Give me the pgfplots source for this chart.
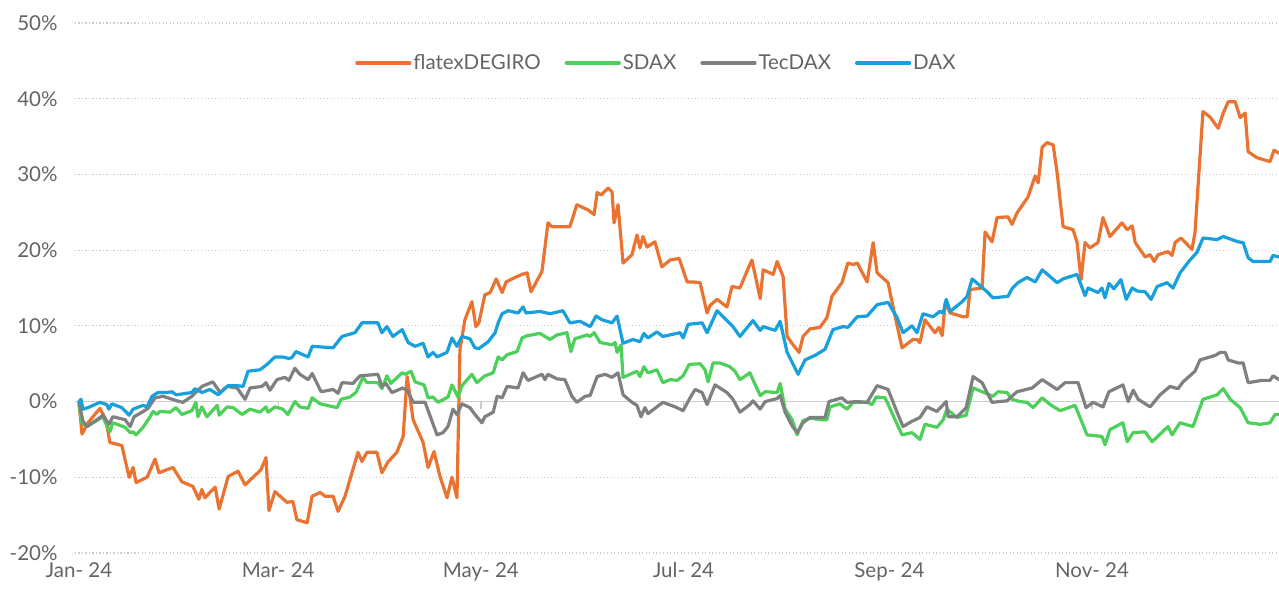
\documentclass[border=0pt]{standalone}
\usepackage{fontspec}
\setmainfont{Lato}
\usepackage{pgfplots}
\pgfplotsset{compat=1.18}
\definecolor{cOrange}{RGB}{235,115,50}
\definecolor{cGreen}{RGB}{76,208,90}
\definecolor{cGray}{RGB}{128,128,128}
\definecolor{cBlue}{RGB}{23,160,220}
\definecolor{cText}{RGB}{100,100,100}
\definecolor{cGrid}{RGB}{205,205,205}
\begin{document}
\begin{tikzpicture}
\begin{axis}[
  scale only axis, width=1204pt, height=530pt,
  xmin=-1.2, xmax=361.3, ymin=-20, ymax=50,
  axis line style={draw=none},
  major tick length=0pt,
  xtick={0,60,121,182,244,305},
  xticklabels={Jan- 24,Mar- 24,May- 24,Jul- 24,Sep- 24,Nov- 24},
  ytick={-20,-10,10,20,30,40,50},
  yticklabels={-20\%,-10\%,10\%,20\%,30\%,40\%,50\%},
  extra y ticks={0}, extra y tick labels={0\%},
  extra y tick style={grid style={solid, color=cGrid, line width=1.6pt}},
  ymajorgrids,
  grid style={color=cGrid, line width=1.2pt, dash pattern=on 1.2pt off 2.3pt},
  ticklabel style={font=\fontsize{20.5}{24}\selectfont, text=cText},
  yticklabel style={xshift=-14pt},
  xticklabel style={yshift=-6pt},
  legend style={at={(0.2326,0.9245)}, anchor=west, draw=none, fill=none, inner sep=0pt,
    font=\fontsize{20.5}{24}\selectfont, text=cText,
    /tikz/every even column/.append style={column sep=22pt}},
  legend columns=4,
  legend image code/.code={\draw[#1] (0pt,0pt) -- (53pt,0pt);},
  every axis plot/.append style={line width=3.2pt, line join=round, line cap=round},
  clip=true,
]
\foreach \d in {60,121,182,244,305} {
  \edef\tmp{\noexpand\draw[cGrid, line width=1.4pt] (axis cs:\d,0) -- ([yshift=-7pt]axis cs:\d,0);}
  \tmp
}
\addplot[cOrange] coordinates {
(0,0) (0.9,-4.3) (2.7,-2.8) (6.3,-0.9) (8.1,-2.4) (9.3,-5.4) (12.9,-5.8) (15.1,-10) (16.3,-8.7) (17.2,-10.7)
(20.5,-10) (22.9,-7.6) (24.1,-9.4) (26.5,-9.0) (28.3,-8.7) (31.0,-10.6) (34.3,-11.2) (36.1,-12.9) (37.0,-11.6) (37.9,-12.7)
(41.0,-11.3) (42.2,-14.2) (43.4,-12.3) (44.9,-9.9) (47.9,-9.2) (50.0,-11) (52.4,-10) (54.8,-9) (56.3,-7.4) (57.2,-14.4)
(59.0,-11.9) (62.6,-13.3) (64.4,-13.2) (65.6,-15.6) (68.7,-16) (70.2,-12.5) (72.6,-12) (74.1,-12.5) (76.5,-12.5) (78.0,-14.5)
(80.1,-12.5) (84.0,-6.7) (85.2,-7.9) (86.7,-6.7) (89.7,-6.7) (91.2,-9.4) (93.0,-8) (95.7,-6.7) (97.6,-4.6) (98.8,3.3)
(100.6,-2.4) (103.6,-5.4) (105.1,-8.7) (106.9,-6.6) (108.7,-9.9) (110.8,-12.7) (112.3,-10) (113.8,-12.7) (114.7,6.9) (116.2,10.8)
(118.3,13.2) (119.5,9.9) (120.4,10.4) (122.2,14.1) (123.8,14.4) (125.6,16.2) (127.4,14.4) (128.6,15.8) (131.3,16.4) (133.4,16.8)
(134.9,17) (136.1,14.5) (139.4,17.2) (141.2,23.6) (142.4,23.1) (147.8,23.1) (149.9,26) (153.3,25.3) (155.1,24.7) (156.0,27.6)
(157.2,27.3) (159.3,28.2) (160.5,27.7) (161.1,23.6) (162.3,26) (163.8,18.3) (166.5,19.4) (168.0,22) (168.9,20.3) (169.8,21.8)
(171.0,20.4) (173.4,21.1) (175.5,17.8) (178.0,18.7) (180.7,18.9) (183.1,15.8) (184.9,15.8) (187.0,15.7) (189.1,11.7) (190.0,12.7)
(192.1,13.5) (195.1,12.5) (196.6,15.2) (199.0,15) (201.1,17.2) (202.6,18.7) (205.1,13.6) (206.0,17.4) (209.0,16.8) (210.2,18.5)
(212.0,16.5) (213.2,8.6) (215.0,7.5) (216.8,6.5) (218.0,8.6) (220.1,9.6) (223.1,9.8) (225.2,11.1) (226.7,13.9) (229.7,15.7)
(231.5,18.3) (233.1,18.1) (234.3,18.3) (237.3,15.8) (239.1,21) (240.3,17) (243.6,15.7) (245.1,12.5) (247.8,7.1) (251.1,8.2)
(252.3,8.2) (253.2,7.8) (254.7,10.8) (257.7,9.1) (258.9,9.8) (259.9,8.7) (260.8,13.1) (262.3,11.7) (266.2,11.2) (267.4,11.2)
(268.3,14.8) (271.9,15) (272.8,22.4) (274.9,21.1) (276.4,24.3) (279.7,24.4) (280.9,23.4) (282.4,24.9) (285.7,27) (287.9,29.8)
(288.8,28.9) (290.0,33.6) (291.5,34.2) (293.3,33.9) (294.5,30.2) (296.3,23.1) (299.3,22.7) (300.5,21) (301.7,16.1) (302.9,21)
(304.4,20.3) (306.8,21) (308.3,24.3) (310.4,21.8) (314.0,23.6) (315.6,22.7) (317.1,23.2) (318.0,21) (321.0,19.1) (322.5,19.4)
(323.7,18.5) (324.9,19.4) (327.9,19.8) (329.1,19.3) (330.0,21) (331.8,21.6) (335.1,20.1) (336.0,22.3) (338.4,38.3) (340.5,37.6)
(343.0,36.1) (344.5,38.1) (346.0,39.6) (348.1,39.6) (349.6,37.5) (351.1,38.1) (352.0,33) (354.7,32.2) (358.6,31.7) (359.8,33.2)
(361.3,32.8)
};
\addlegendentry{flatexDEGIRO}
\addplot[cGreen] coordinates {
(0,-0.4) (0.9,-2.8) (2.4,-3.3) (7.2,-2) (8.4,-3.2) (9.3,-4) (10.2,-2.8) (13.9,-3.4) (15.4,-4.1) (16.3,-4) (17.2,-4.4)
(19.3,-3.4) (21.4,-2) (22.3,-1.3) (23.5,-1.7) (24.4,-1.3) (27.4,-1.4) (29.2,-0.8) (31.0,-1.7) (34.0,-1.2) (35.2,-0.1)
(35.8,-2) (37.0,-0.7) (38.5,-2) (41.6,-0.5) (42.2,-1.8) (44.6,-0.7) (46.4,-0.8) (49.1,-1.7) (51.5,-1) (54.5,-1.4)
(56.3,-0.7) (56.9,-1.4) (59.0,-0.7) (61.4,-1) (62.9,-1.7) (65.0,0) (66.5,-0.7) (69.0,-0.9) (70.2,0.5) (72.6,-0.3)
(77.7,-0.8) (78.9,0.3) (81.6,0.6) (83.4,1.2) (85.5,3.2) (86.7,2.5) (90.0,2.5) (91.2,1.7) (92.7,3.4) (93.9,2.4)
(97.3,3.8) (98.2,3.6) (100.0,4) (101.2,2.6) (103.9,2.2) (105.1,0.5) (106.6,0.6) (108.1,-0.1) (111.1,0.6) (112.3,2.2)
(114.1,0.6) (115.3,2.1) (118.3,3.6) (119.8,2.5) (122.2,3.4) (124.7,3.8) (126.2,5.9) (127.4,5.5) (128.9,6.2) (131.9,6.6)
(133.4,8.4) (134.9,8.7) (138.8,9) (140.3,8.6) (141.8,8.2) (143.9,8.8) (146.9,9.1) (148.1,6.6) (149.3,8.3) (153.0,8.8)
(153.9,8.6) (155.1,9.1) (156.9,7.8) (160.5,7.5) (161.4,7.8) (162.0,6.5) (163.2,7.5) (163.8,3.2) (168.0,4) (168.9,3.3)
(170.1,4.6) (171.3,3.8) (174.0,4.2) (175.8,2.5) (178.0,2.9) (180.1,2.8) (181.9,3.4) (183.7,4.9) (187.0,5) (188.5,4.2)
(189.4,2.6) (190.9,5.1) (193.0,5.1) (196.0,4.6) (197.5,4) (199.0,2.9) (202.0,3.8) (202.9,2.9) (205.1,0.8) (206.6,1.3)
(210.2,1.2) (211.1,2.4) (212.6,-1) (214.7,-2.4) (216.2,-4.4) (218.0,-2.5) (220.1,-2.2) (223.7,-2.4) (225.2,-2.4) (226.1,-0.7)
(229.1,-0.3) (231.2,-1) (233.1,-0.1) (237.3,-0.1) (238.8,-0.4) (240.0,0.6) (242.7,0.5) (245.7,-2.4) (247.8,-4.4) (250.8,-4.1)
(253.2,-5) (254.7,-3) (258.3,-3.4) (260.2,-2.4) (261.3,-1) (264.4,-2.1) (267.1,-1.8) (269.2,1.8) (271.9,1.3) (275.2,0.7)
(276.7,1.3) (279.4,1.2) (280.9,0.3) (283.3,0) (285.4,-0.1) (287.3,-0.8) (290.0,0.5) (292.4,-0.4) (295.4,-1.2) (299.9,-0.5)
(303.5,-4.4) (308.0,-4.6) (308.9,-5.7) (310.4,-3.7) (314.3,-2.8) (315.6,-5.3) (317.4,-4.1) (321.0,-4) (323.1,-5.3) (327.9,-3.3)
(329.1,-4.4) (331.5,-2.8) (335.4,-3.3) (338.4,0.3) (342.7,0.9) (344.5,1.7) (346.6,0.3) (349.6,-0.8) (352.0,-2.8) (355.6,-3)
(358.6,-2.8) (360.1,-1.7) (361.3,-1.7)
};
\addlegendentry{SDAX}
\addplot[cGray] coordinates {
(0,-0.1) (1.2,-2.6) (2.4,-3.3) (5.4,-2.4) (7.2,-1.8) (9.0,-3) (10.2,-2) (13.9,-2.4) (15.4,-3.3) (16.6,-2) (19.0,-1.4)
(20.8,-0.9) (22.9,0.5) (25.3,0.7) (27.4,0.4) (29.5,0.1) (31.3,-0.1) (34.0,0.7) (37.0,2) (40.3,2.6) (42.5,1.2)
(44.6,2) (47.6,1.8) (50.0,0.3) (51.5,1.8) (55.1,2) (56.3,2.5) (57.5,1.5) (59.6,2.9) (62.0,3.2) (63.2,2.8)
(65.0,4.4) (66.5,3.6) (69.0,2.9) (70.2,3.7) (72.9,1.3) (76.5,1.6) (78.0,1.1) (79.2,2.5) (82.5,2.4) (84.6,3.4)
(90.0,3.6) (91.2,2) (92.4,2.4) (94.2,1.2) (97.6,1.8) (99.1,1.3) (100.6,-0.1) (104.2,-0.1) (107.8,-4.4) (109.6,-4.1)
(111.1,-3.3) (112.6,-1) (113.8,-1.7) (115.3,-0.3) (117.7,-0.8) (119.2,-1.7) (121.3,-2.8) (122.2,-2) (124.7,-1.4) (125.9,0.7)
(127.4,0.5) (128.9,2) (132.2,1.8) (133.7,3.8) (135.2,2.8) (139.4,3.6) (140.3,2.9) (141.2,3.6) (143.9,3) (146.3,2.9)
(148.4,0.7) (149.9,-0.1) (152.4,0.7) (153.9,0.8) (156.0,3.3) (158.4,3.6) (160.5,3.2) (162.3,3.8) (163.8,0.9) (166.5,-0.1)
(168.0,-0.5) (169.2,-2) (170.4,-0.8) (171.3,-1.6) (175.8,-0.1) (179.5,-0.7) (181.9,-1.2) (184.0,0.5) (185.5,1.6) (187.6,1.2)
(189.1,-0.4) (191.5,2.2) (195.1,1.2) (196.9,0.3) (199.0,-1.4) (202.0,-0.4) (202.9,0.1) (205.1,-1) (206.6,0) (210.2,0.4)
(211.1,0.8) (212.6,-1.4) (214.7,-3.2) (216.2,-4.1) (218.0,-2.8) (220.1,-2.1) (224.6,-2.1) (225.8,0) (229.7,0.5) (231.2,-0.1)
(234.3,0) (237.3,-0.1) (240.3,2.1) (243.6,1.6) (246.3,-1.4) (248.1,-3.3) (250.8,-2.6) (253.2,-2.1) (255.3,-0.7) (258.3,-1.3)
(261.1,0) (261.7,-2) (264.4,-2) (267.1,-0.8) (269.2,3.3) (271.9,2.5) (274.9,-0.1) (279.4,0.1) (282.4,1.3) (287.0,1.8)
(290.0,2.9) (294.5,1.6) (296.9,2.5) (300.8,2.5) (303.2,-0.8) (305.3,-0.1) (308.3,-0.7) (310.1,1.3) (314.3,2.2) (315.9,0)
(317.4,1.5) (318.9,0.3) (322.5,-0.7) (325.5,0.9) (328.5,2) (330.9,1.7) (332.4,2.6) (336.0,4) (337.5,5.5) (342.1,6.1)
(343.6,6.5) (345.1,6.5) (346.0,5.5) (349.0,5.1) (350.5,5.1) (352.0,2.5) (356.2,2.8) (358.6,2.8) (359.5,3.4) (361.3,2.9)
};
\addlegendentry{TecDAX}
\addplot[cBlue] coordinates {
(0,0) (0.6,0.3) (1.2,-1) (2.7,-0.8) (6.3,-0.1) (8.4,-0.4) (9.0,-1) (9.9,-0.3) (12.9,-0.8) (15.1,-1.8) (16.3,-1)
(19.3,-0.5) (20.5,-0.7) (22.0,0.7) (23.8,1.2) (26.5,1.2) (28.0,1.3) (29.2,0.9) (31.0,1) (34.0,1.2) (34.9,1.7)
(37.0,1.2) (39.4,1.6) (41.9,0.9) (44.9,2.1) (47.6,2.1) (49.4,2) (50.9,4) (54.5,4.2) (56.6,4.9) (59.0,5.9)
(61.1,5.9) (63.2,5.7) (64.1,5.8) (65.3,6.6) (69.0,5.9) (70.2,7.3) (76.5,7.1) (79.2,8.6) (83.1,9.1) (85.2,10.4)
(90.0,10.4) (91.2,9.1) (92.7,9.9) (94.5,8.6) (97.3,9.5) (99.1,7.8) (101.2,7.3) (103.6,7.7) (105.1,5.9) (106.6,6.5)
(107.8,5.9) (110.8,6.5) (112.3,8.4) (113.8,7.3) (115.3,8.6) (117.7,8.3) (119.2,7.1) (120.4,7) (123.2,7.9) (125.3,9.1)
(126.2,10.4) (127.4,11.6) (129.2,12) (132.2,11.7) (133.7,12.5) (134.6,11.7) (138.8,11.9) (141.8,11.6) (145.7,12) (147.8,10.4)
(150.9,10.6) (153.9,9.9) (155.7,11.3) (157.5,10.8) (160.5,10.4) (162.0,11.3) (163.8,7.7) (166.8,8.2) (168.9,7.9) (170.1,9)
(171.3,8.4) (174.0,9.2) (175.8,8.6) (181.0,9.1) (181.9,8.4) (183.4,10.2) (187.6,10.4) (189.1,9.1) (192.1,12) (196.9,9.9)
(199.0,8.6) (202.9,10.7) (205.1,9.4) (206.0,9.9) (209.6,9.4) (211.1,10.6) (213.2,6.5) (216.5,3.6) (218.6,5.5) (221.6,6.1)
(224.6,6.9) (227.0,9.5) (230.0,9.9) (231.5,9.8) (234.3,11.2) (237.3,11.3) (240.3,12.8) (243.6,13.1) (246.3,11.1) (248.1,9.1)
(250.8,10) (252.3,9.1) (254.1,11.6) (257.1,11.2) (259.2,11.9) (260.2,11.7) (261.1,13.5) (262.3,11.9) (265.9,13.2) (267.4,13.9)
(268.9,16.2) (273.4,14.5) (275.2,13.7) (279.7,13.9) (280.9,14.9) (282.7,15.7) (285.4,16.4) (287.9,15.8) (290.0,17.4) (294.5,15.7)
(296.3,16.2) (300.5,16.8) (302.9,14) (303.8,15) (306.8,14.4) (308.0,15) (308.9,13.7) (310.1,15.6) (311.6,14.9) (313.7,16.1)
(315.3,13.5) (317.1,15) (318.6,14.6) (321.0,14.5) (322.8,13.5) (324.6,15.2) (327.6,15.7) (329.4,15) (331.5,17) (334.5,18.7)
(336.6,19.7) (338.4,21.6) (342.7,21.4) (344.5,21.8) (349.0,21.1) (350.5,21) (352.0,19) (353.5,18.5) (358.6,18.5) (359.5,19.3)
(361.3,19.1)
};
\addlegendentry{DAX}
\end{axis}
\pgfresetboundingbox
\path[use as bounding box] (-75pt,-37pt) rectangle (1204pt,553pt);
\end{tikzpicture}
\end{document}
